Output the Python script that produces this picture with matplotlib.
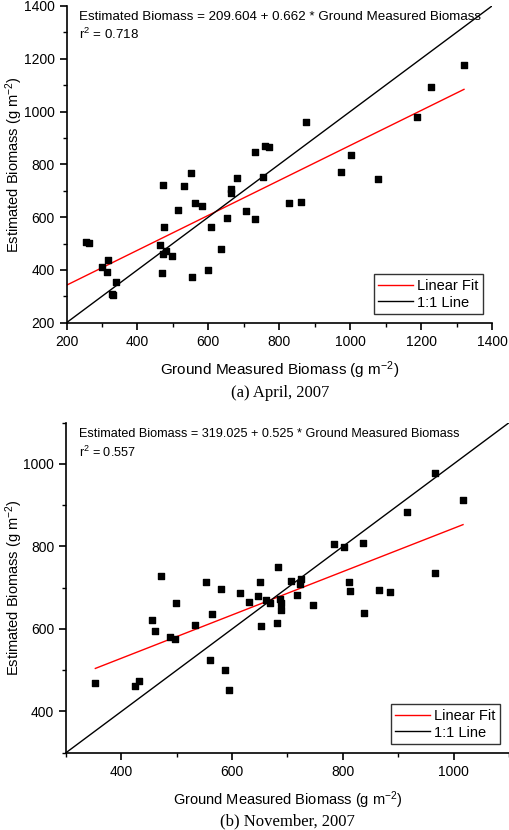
import matplotlib
matplotlib.use("Agg")
import matplotlib.pyplot as plt
import numpy as np
from matplotlib.ticker import MultipleLocator

plt.rcParams['font.family'] = ['Liberation Sans', 'DejaVu Sans']
plt.rcParams['mathtext.fontset'] = 'custom'
plt.rcParams['mathtext.rm'] = 'Liberation Sans'
plt.rcParams['mathtext.it'] = 'Liberation Sans:italic'

# ============================================================
# DATA
# ============================================================

# (a) April, 2007
apr_ground = [255, 263, 300, 316, 313, 339, 327, 331, 464, 469, 471, 471, 480,
              475, 497, 514, 530, 551, 555, 562, 582, 600, 608, 637, 652, 663,
              665, 681, 705, 731, 732, 755, 761, 770, 828, 861, 876, 973, 1001,
              1078, 1188, 1227, 1321]
apr_est = [506, 502, 411, 436, 393, 353, 308, 305, 494, 387, 722, 462, 473,
           564, 452, 627, 718, 768, 374, 655, 642, 401, 564, 478, 596, 693,
           705, 749, 622, 593, 846, 751, 869, 866, 655, 657, 959, 772, 836,
           746, 980, 1094, 1175]
apr_intercept, apr_slope, apr_r2 = 209.604, 0.662, 0.718
apr_fit_x = [200, 1321]
apr_one_x = [200, 1400]

# (b) November, 2007
nov_ground = [353, 424, 432, 456, 461, 471, 488, 496, 498, 533, 553, 560, 564,
              580, 587, 594, 615, 630, 646, 650, 652, 661, 668, 681, 683, 686,
              689, 688, 706, 724, 722, 717, 746, 784, 802, 836, 811, 812, 839,
              866, 885, 915, 966, 967, 1017]
nov_est = [469, 462, 474, 621, 596, 728, 580, 576, 662, 610, 714, 524, 636,
           697, 500, 453, 686, 666, 680, 714, 607, 671, 662, 615, 750, 672,
           662, 646, 717, 722, 710, 682, 658, 805, 799, 809, 713, 693, 638,
           694, 690, 884, 977, 736, 913]
nov_intercept, nov_slope, nov_r2 = 319.025, 0.525, 0.557
nov_fit_x = [353, 1017]
nov_one_x = [300, 1100]

xlabel = 'Ground Measured Biomass (g m$^{-2}$)'
ylabel = 'Estimated Biomass (g m$^{-2}$)'

fig = plt.figure(figsize=(5.1, 8.3), dpi=100)
ax1 = fig.add_axes([0.1304, 0.6112, 0.8343, 0.3816])
ax2 = fig.add_axes([0.1294, 0.0931, 0.8686, 0.3976])


def draw(ax, gx, ey, b0, b1, r2, fit_x, one_x, lim, major, fs):
    fx = np.array(fit_x, dtype=float)
    ax.plot(fx, b0 + b1 * fx, color='red', lw=1.0, label='Linear Fit', zorder=2)
    ax.plot(one_x, one_x, color='black', lw=1.0, label='1:1 Line', zorder=2)
    ax.scatter(gx, ey, marker='s', s=24, color='black', zorder=3)
    ax.set_xlim(*lim)
    ax.set_ylim(*lim)
    for s in ['top', 'right']:
        ax.spines[s].set_visible(False)
    for s in ['left', 'bottom']:
        ax.spines[s].set_linewidth(1.2)
    ax.xaxis.set_major_locator(MultipleLocator(major))
    ax.yaxis.set_major_locator(MultipleLocator(major))
    ax.xaxis.set_minor_locator(MultipleLocator(major / 2))
    ax.yaxis.set_minor_locator(MultipleLocator(major / 2))
    ax.tick_params(which='major', direction='out', length=5, width=1.2, labelsize=10)
    ax.tick_params(which='minor', direction='out', length=3, width=1.0)
    ax.set_xlabel(xlabel, fontsize=fs + 1.4, labelpad=8)
    ax.set_ylabel(ylabel, fontsize=10.5)
    # keep the y label inside the figure, as in the original
    w = ax.get_position().width * 510
    ax.yaxis.set_label_coords(-(ax.get_position().x0 * 510 - 3) / w, 0.5)
    ax.yaxis.label.set_va('top')
    ax.text(0.03, 0.965, f'Estimated Biomass = {b0:.3f} + {b1:.3f} * Ground Measured Biomass',
            transform=ax.transAxes, fontsize=fs, va='center')
    ax.text(0.03, 0.91, f'r$^2$ = {r2:.3f}', transform=ax.transAxes, fontsize=fs, va='center')
    leg = ax.legend(loc='lower right', fontsize=10.5, frameon=True, fancybox=False,
                    edgecolor='black', handlelength=2.4, handletextpad=0.3,
                    borderpad=0.3, labelspacing=0.2, borderaxespad=0.6)
    leg.get_frame().set_linewidth(1.0)


draw(ax1, apr_ground, apr_est, apr_intercept, apr_slope, apr_r2,
     apr_fit_x, apr_one_x, (200, 1400), 200, 9.6)
draw(ax2, nov_ground, nov_est, nov_intercept, nov_slope, nov_r2,
     nov_fit_x, nov_one_x, (300, 1100), 200, 9.1)
ax2.set_xticks([400, 600, 800, 1000])
ax2.set_yticks([400, 600, 800, 1000])

fig.text(0.55, 1 - 393 / 830, '(a) April, 2007', family='Liberation Serif',
         fontsize=12, ha='center', va='center')
fig.text(0.563, 1 - 821 / 830, '(b) November, 2007', family='Liberation Serif',
         fontsize=12, ha='center', va='center')

fig.savefig('out.png', dpi=100, facecolor='white')
